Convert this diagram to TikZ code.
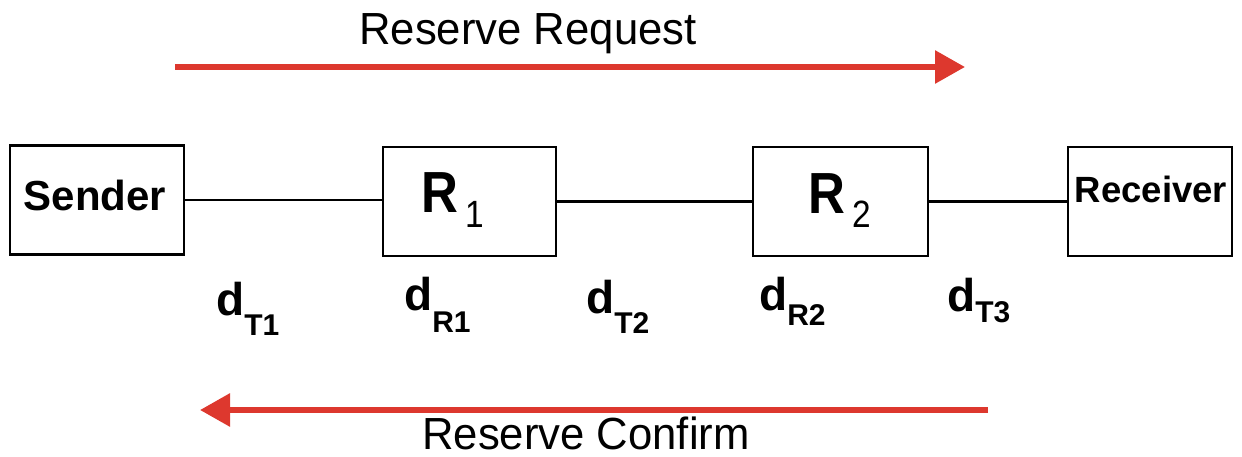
\documentclass[tikz,border=0pt]{standalone}
\usepackage{fontspec}
\setmainfont{Liberation Sans}
\usetikzlibrary{arrows.meta}
\definecolor{arrred}{RGB}{221,56,46}
\tikzset{
  box/.style={draw=black, line width=2.6pt, minimum height=109pt, inner sep=0pt},
  link/.style={line width=2.6pt},
  msg/.style={draw=arrred, line width=6pt, -{Triangle[length=30pt,width=32pt]}},
  lab/.style={font=\fontsize{45}{50}\selectfont, inner sep=0pt, anchor=base},
  dl/.style={inner sep=0pt, anchor=base west},
  txt/.style={inner sep=0pt, anchor=base west}
}
\newcommand{\dsub}[3]{{\fontsize{46}{50}\selectfont\bfseries d\raisebox{#3}{\fontsize{30}{32}\selectfont #1#2}}}
\newcommand{\rsub}[1]{{\addfontfeature{FakeStretch=0.88}\fontsize{58}{62}\selectfont\bfseries R\hspace{7pt}\raisebox{-14pt}{\fontsize{38}{40}\selectfont\mdseries #1}}}
\begin{document}
\begin{tikzpicture}[x=1pt,y=-1pt]
\useasboundingbox (0,0) rectangle (1242,457);
% boxes
\node[box, minimum width=174pt] (sender) at (97,200) {};
\node[box, minimum width=173pt] (r1) at (469.5,201.5) {};
\node[box, minimum width=175pt] (r2) at (840.5,201.5) {};
\node[box, minimum width=164pt] (recv) at (1150,201.5) {};
\node[inner sep=0pt, anchor=base] (sendert) at (95,211) {\fontsize{42}{46}\selectfont\bfseries Sender};
\node[txt] (r1t) at (421,213) {\rsub{1}};
\node[txt] (r2t) at (808,214) {\rsub{2}};
\node[inner sep=0pt, anchor=base] (recvt) at (1151,203) {\fontsize{36.5}{40}\selectfont\bfseries Receiver};
% links
\draw[link] (sender.east) -- (sender.east -| r1.west);
\draw[link] (r1.east) -- (r1.east -| r2.west);
\draw[link] (r2.east) -- (r2.east -| recv.west);
% delay labels
\node[dl] (dt1) at (216,315) {\dsub{T}{1}{-20pt}};
\node[dl] (dr1) at (404,310) {\dsub{R}{1}{-22pt}};
\node[dl] (dt2) at (586,313) {\dsub{T}{2}{-20pt}};
\node[dl] (dr2) at (759,310) {\dsub{R}{2}{-15pt}};
\node[dl] (dt3) at (947,311) {\dsub{T}{3}{-11pt}};
% messages
\coordinate (rqs) at (175,67);
\coordinate (rqe) at (965,67);
\draw[msg] (rqs) -- (rqe);
\node[lab] (rqt) at (528,45) {\addfontfeature{FakeStretch=0.97}Reserve Request};
\coordinate (cfs) at (988,410);
\coordinate (cfe) at (200,410);
\draw[msg] (cfs) -- (cfe);
\node[lab] (cft) at (586,449) {\addfontfeature{FakeStretch=0.97}Reserve Confirm};
\end{tikzpicture}
\end{document}
